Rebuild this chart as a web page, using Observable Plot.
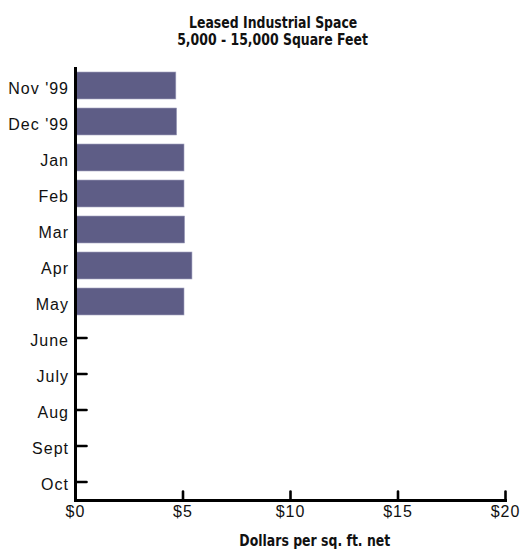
<!DOCTYPE html>
<html>
<head>
<meta charset="utf-8">
<script src="https://cdn.jsdelivr.net/npm/d3@7"></script>
<script src="https://cdn.jsdelivr.net/npm/@observablehq/plot@0.6"></script>
<style>
  html, body { margin: 0; padding: 0; background: #fff; }
  #wrap { width: 528px; position: relative; }
  .title {
    width: 528px; height: 50px; box-sizing: border-box;
    padding-top: 13.5px; padding-left: 18px;
    text-align: center;
    font-family: "Liberation Sans Narrow", "DejaVu Sans Condensed", "Arial Narrow", sans-serif;
    font-weight: bold; font-size: 16.5px; line-height: 17.5px; color: #111;
  }
  .title span, .xlabel span { display: inline-block; transform: scaleX(0.84); transform-origin: center; }
  .xlabel {
    position: absolute; left: 0; top: 532px; width: 528px; padding-left: 102px; box-sizing: border-box;
    text-align: center;
    font-family: "Liberation Sans Narrow", "DejaVu Sans Condensed", "Arial Narrow", sans-serif;
    font-weight: bold; font-size: 16.5px; line-height: 18px; color: #111;
  }
  #chart svg text { letter-spacing: 1px; }
</style>
</head>
<body>
<div id="wrap">
  <div class="title"><span>Leased Industrial Space</span><br><span>5,000 - 15,000 Square Feet</span></div>
  <div id="chart"></div>
  <div class="xlabel"><span>Dollars per sq. ft. net</span></div>
</div>
<script>
const months = ["Nov '99", "Dec '99", "Jan", "Feb", "Mar", "Apr", "May", "June", "July", "Aug", "Sept", "Oct"];
const barMonths = ["Nov '99", "Dec '99", "Jan", "Feb", "Mar", "Apr", "May"];
const rents = [4.69, 4.73, 5.07, 5.07, 5.10, 5.44, 5.07];
const xTicks = [0, 5, 10, 15, 20];
const xTickLabels = ["$0", "$5", "$10", "$15", "$20"];

const data = barMonths.map((m, i) => ({month: m, value: rents[i]}));

const lineShape = {draw(context, l) { context.moveTo(0, 0); context.lineTo(0, -l); }};

const chart = Plot.plot({
  width: 528,
  height: 501,
  marginTop: 17,
  marginBottom: 51,
  marginLeft: 75,
  marginRight: 23,
  style: {fontFamily: "'Liberation Sans', Arial, sans-serif", color: "#111", background: "#fff"},
  x: {domain: [0, 20], ticks: xTicks},
  y: {domain: months, paddingInner: 0.24, paddingOuter: 0.1},
  marks: [
    Plot.vector(months, {y: d => d, frameAnchor: "left", length: 11, rotate: 90, anchor: "start", shape: lineShape, stroke: "#000", strokeWidth: 2.6}),
    Plot.vector(xTicks, {x: d => d, frameAnchor: "bottom", length: 9, rotate: 0, anchor: "start", shape: lineShape, stroke: "#000", strokeWidth: 2.6}),
    Plot.barX(data, {y: "month", x: "value", fill: "#5e5d86", stroke: "#a4a4c0", strokeWidth: 0.6}),
    Plot.axisY({tickSize: 0, tickPadding: 6.5, fontSize: 16, dy: 2.5, label: null}),
    Plot.axisX({ticks: xTicks, tickFormat: d => xTickLabels[xTicks.indexOf(d)], tickSize: 0, tickPadding: 5, fontSize: 16, label: null}),
    Plot.ruleX([0], {stroke: "#000", strokeWidth: 3}),
    Plot.frame({anchor: "bottom", stroke: "#000", strokeWidth: 3})
  ]
});
document.getElementById("chart").appendChild(chart);
</script>
</body>
</html>
